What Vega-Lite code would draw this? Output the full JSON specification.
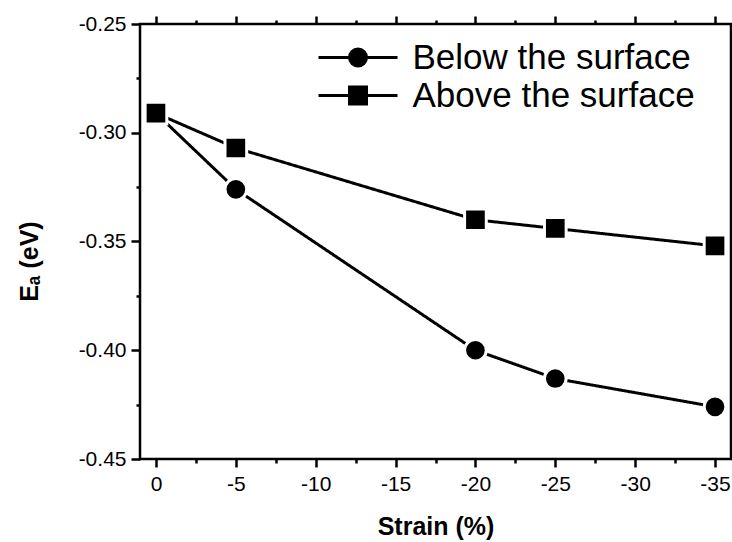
{
  "$schema": "https://vega.github.io/schema/vega-lite/v6.json",
  "width": 591,
  "height": 435,
  "autosize": {"type": "none"},
  "padding": {"left": 140, "top": 24, "right": 1, "bottom": 83},
  "background": "white",
  "config": {
    "font": "Liberation Sans",
    "view": {"stroke": "black", "strokeWidth": 2.5},
    "axis": {
      "domain": false,
      "grid": false,
      "tickColor": "black",
      "tickWidth": 2.5,
      "labelColor": "black",
      "labelFont": "Liberation Sans",
      "labelFontSize": 21,
      "titleColor": "black",
      "titleFont": "Liberation Sans",
      "titleFontWeight": "bold",
      "titleFontSize": 25
    },
    "legend": {
      "orient": "none",
      "legendX": 178,
      "legendY": 16,
      "padding": 0,
      "labelFont": "Liberation Sans",
      "labelFontSize": 35,
      "labelLimit": 500,
      "labelOffset": 37,
      "rowPadding": 2,
      "symbolOffset": 22.5
    }
  },
  "data": {
    "values": [
      {"series": "Below the surface", "strain": 0, "ea": -0.291},
      {"series": "Below the surface", "strain": -5, "ea": -0.326},
      {"series": "Below the surface", "strain": -20, "ea": -0.4},
      {"series": "Below the surface", "strain": -25, "ea": -0.413},
      {"series": "Below the surface", "strain": -35, "ea": -0.426},
      {"series": "Above the surface", "strain": 0, "ea": -0.291},
      {"series": "Above the surface", "strain": -5, "ea": -0.307},
      {"series": "Above the surface", "strain": -20, "ea": -0.34},
      {"series": "Above the surface", "strain": -25, "ea": -0.344},
      {"series": "Above the surface", "strain": -35, "ea": -0.352}
    ]
  },
  "layer": [
    {
      "mark": {"type": "line", "color": "black", "strokeWidth": 3},
      "encoding": {
        "x": {
          "field": "strain",
          "type": "quantitative",
          "scale": {"domain": [-36, 1], "reverse": true, "nice": false, "zero": false},
          "axis": {
            "orient": "bottom",
            "title": "Strain (%)",
            "titleY": 75,
            "titleBaseline": "alphabetic",
            "values": [-35, -32.5, -30, -27.5, -25, -22.5, -20, -17.5, -15, -12.5, -10, -7.5, -5, -2.5, 0],
            "labelExpr": "datum.value % 5 === 0 ? '' + datum.value : ''",
            "tickSize": {"condition": {"test": "datum.value % 5 === 0", "value": 8}, "value": 4},
            "labelPadding": 6
          }
        },
        "y": {
          "field": "ea",
          "type": "quantitative",
          "scale": {"domain": [-0.45, -0.25], "nice": false, "zero": false},
          "axis": {
            "title": "Eₐ (eV)",
            "titleX": -103,
            "titleY": 237,
            "titleAngle": -90,
            "titleAlign": "center",
            "titleBaseline": "alphabetic",
            "values": [-0.45, -0.425, -0.4, -0.375, -0.35, -0.325, -0.3, -0.275, -0.25],
            "labelExpr": "abs(round(datum.value * 1000)) % 50 === 0 ? replace(format(datum.value, '.2f'), '\u2212', '-') : ''",
            "tickSize": {"condition": {"test": "abs(round(datum.value * 1000)) % 50 === 0", "value": 9}, "value": 4},
            "labelPadding": 5
          }
        },
        "strokeDash": {
          "field": "series",
          "type": "nominal",
          "sort": "descending",
          "scale": {"range": [[1, 0], [1, 0]]},
          "legend": {
            "title": null,
            "labelColor": "black",
            "symbolType": "M-7.9,0L7.9,0",
            "symbolSize": 100,
            "symbolStrokeColor": "black",
            "symbolStrokeWidth": 3
          }
        }
      }
    },
    {
      "mark": {"type": "point", "filled": true, "fill": "black", "stroke": "white", "strokeWidth": 3, "size": 470, "opacity": 1},
      "encoding": {
        "x": {
          "field": "strain",
          "type": "quantitative",
          "scale": {"domain": [-36, 1], "reverse": true, "nice": false, "zero": false},
          "axis": {
            "orient": "top",
            "title": null,
            "labels": false,
            "values": [-35, -32.5, -30, -27.5, -25, -22.5, -20, -17.5, -15, -12.5, -10, -7.5, -5, -2.5, 0],
            "tickSize": {"condition": {"test": "datum.value % 5 === 0", "value": 8}, "value": 4}
          }
        },
        "y": {"field": "ea", "type": "quantitative", "axis": null},
        "shape": {
          "field": "series",
          "type": "nominal",
          "scale": {"domain": ["Below the surface", "Above the surface"], "range": ["circle", "square"]},
          "legend": {
            "title": null,
            "labelOpacity": 0,
            "symbolSize": 400,
            "symbolFillColor": "black",
            "symbolStrokeColor": "black",
            "symbolStrokeWidth": 1,
            "symbolOpacity": 1
          }
        }
      }
    }
  ],
  "resolve": {"axis": {"x": "independent", "y": "independent"}}
}
